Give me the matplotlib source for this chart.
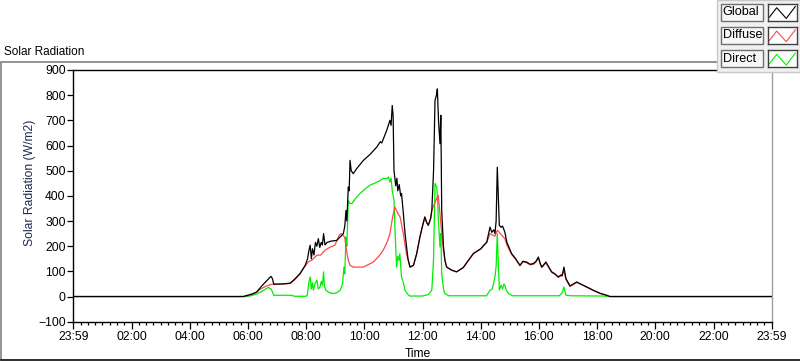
import numpy as np
import matplotlib.pyplot as plt
from matplotlib.patches import Rectangle
from matplotlib.ticker import MultipleLocator

plt.rcParams['font.family'] = ['Liberation Sans', 'DejaVu Sans']

# time in hours after 23:59, values in W/m2
global_t = [0, 5.84, 6.0, 6.15, 6.3, 6.5, 6.79, 6.84, 6.89, 7.2, 7.45, 7.6, 7.79, 7.97, 8.05,
            8.1, 8.14, 8.18, 8.22, 8.27, 8.32, 8.37, 8.42, 8.47, 8.52, 8.56, 8.6, 8.65, 8.72,
            8.85, 9.05, 9.2, 9.28, 9.33, 9.37, 9.4, 9.45, 9.48, 9.51, 9.55, 9.62, 9.75, 9.97,
            10.2, 10.43, 10.55, 10.6, 10.77, 10.85, 10.88, 10.92, 10.96, 10.99, 11.02, 11.08,
            11.12, 11.15, 11.2, 11.25, 11.28, 11.35, 11.4, 11.5, 11.57, 11.69, 11.8, 11.91,
            12.0, 12.08, 12.14, 12.2, 12.28, 12.32, 12.38, 12.43, 12.48, 12.51, 12.55, 12.6,
            12.63, 12.66, 12.72, 12.77, 12.83, 13.0, 13.17, 13.4, 13.75, 14.0, 14.21, 14.32,
            14.38, 14.45, 14.49, 14.53, 14.57, 14.6, 14.64, 14.7, 14.75, 14.83, 14.9, 15.06,
            15.2, 15.35, 15.45, 15.58, 15.7, 15.81, 15.9, 15.98, 16.05, 16.1, 16.24, 16.3,
            16.44, 16.55, 16.67, 16.75, 16.8, 16.86, 16.93, 17.07, 17.3, 17.52, 17.87, 18.1,
            18.33, 18.44, 24]
global_v = [0, 0, 5, 10, 18, 45, 80, 72, 49, 50, 53, 68, 91, 124, 150,
            185, 204, 150, 190, 165, 215, 200, 230, 195, 215, 205, 250, 205, 215,
            220, 223, 240, 250, 280, 342, 300, 435, 420, 541, 500, 488, 510, 541,
            565, 594, 615, 610, 660, 690, 700, 680, 759, 720, 501, 440,
            470, 420, 445, 400, 409, 320, 250, 150, 117, 124, 170, 236,
            280, 316, 295, 283, 310, 342, 500, 779, 800, 825, 700, 607,
            720, 342, 200, 144, 117, 105, 98, 115, 171, 190, 217, 276,
            255, 265, 250, 300, 514, 420, 283, 275, 280, 256, 215, 171,
            150, 124, 140, 137, 128, 131, 140, 157, 130, 117, 137, 125,
            98, 90, 78, 85, 82, 117, 71, 42, 58, 45, 25, 13,
            5, 0, 0]

diffuse_t = [0, 5.84, 6.0, 6.15, 6.3, 6.41, 6.6, 6.79, 6.89, 7.2, 7.45, 7.6, 7.79, 7.97, 8.07,
             8.2, 8.37, 8.5, 8.65, 8.82, 8.99, 9.15, 9.22, 9.33, 9.37, 9.45, 9.51, 9.62, 9.97,
             10.31, 10.5, 10.65, 10.8, 10.88, 10.98, 11.05, 11.15, 11.23, 11.34, 11.45, 11.57,
             11.69, 11.8, 11.91, 12.0, 12.08, 12.14, 12.2, 12.28, 12.32, 12.45, 12.54, 12.6,
             12.66, 12.72, 12.77, 12.83, 13.0, 13.17, 13.4, 13.75, 14.0, 14.21, 14.32, 14.4,
             14.49, 14.57, 14.64, 14.75, 14.83, 14.9, 15.06, 15.2, 15.35, 15.45, 15.58, 15.7,
             15.81, 15.9, 15.98, 16.05, 16.1, 16.24, 16.3, 16.44, 16.55, 16.67, 16.75, 16.86,
             16.93, 17.07, 17.3, 17.52, 17.87, 18.1, 18.33, 18.44, 24]
diffuse_v = [0, 0, 5, 10, 17, 28, 40, 48, 49, 50, 52, 66, 90, 122, 137,
             145, 164, 165, 184, 196, 204, 246, 250, 235, 197, 144, 124, 117, 117,
             137, 160, 184, 220, 250, 320, 356, 330, 316, 250, 170, 117,
             124, 170, 236, 280, 316, 295, 283, 310, 342, 380, 402, 330,
             250, 180, 144, 117, 105, 98, 115, 171, 188, 215, 250, 245,
             240, 263, 255, 240, 230, 205, 168, 148, 122, 138, 134, 126,
             128, 137, 153, 128, 115, 134, 122, 96, 88, 76, 82, 100,
             68, 40, 56, 44, 24, 12, 4, 0, 0]

direct_t = [0, 5.95, 6.1, 6.3, 6.5, 6.7, 6.8, 6.89, 7.5, 7.6, 8.0, 8.04, 8.1, 8.14, 8.18,
            8.22, 8.25, 8.3, 8.37, 8.42, 8.48, 8.52, 8.56, 8.6, 8.63, 8.68, 8.8, 8.94, 9.05,
            9.17, 9.25, 9.3, 9.33, 9.37, 9.4, 9.45, 9.5, 9.57, 9.7, 9.85, 10.0, 10.19, 10.35,
            10.54, 10.65, 10.77, 10.83, 10.88, 10.92, 10.96, 11.02, 11.06, 11.11, 11.15,
            11.19, 11.22, 11.28, 11.33, 11.4, 11.5, 11.57, 12.0, 12.2, 12.32, 12.38, 12.43,
            12.49, 12.52, 12.54, 12.6, 12.63, 12.66, 12.72, 12.77, 12.9, 14.2, 14.32, 14.4,
            14.49, 14.53, 14.57, 14.6, 14.64, 14.7, 14.75, 14.8, 14.83, 14.88, 14.95, 15.1,
            16.7, 16.8, 16.86, 16.93, 17.1, 18.2, 18.44, 24]
direct_v = [0, 0, 3, 10, 22, 36, 30, 5, 5, 1, 1, 5, 60, 78, 30,
            55, 25, 50, 65, 30, 38, 60, 45, 98, 40, 25, 15, 12, 15,
            25, 50, 117, 90, 236, 200, 382, 370, 369, 390, 409, 425, 442, 450,
            461, 470, 468, 475, 455, 470, 422, 382, 250, 117, 160,
            144, 170, 78, 60, 25, 8, 2, 2, 8, 25, 150, 449,
            435, 380, 316, 197, 250, 91, 30, 12, 3, 3, 25, 30,
            78, 120, 250, 150, 25, 45, 30, 50, 45, 25, 12, 3,
            3, 15, 38, 5, 3, 2, 0, 0]

tick_hours = np.arange(0, 25, 2)
tick_labels = ['23:59', '02:00', '04:00', '06:00', '08:00', '10:00', '12:00',
               '14:00', '16:00', '18:00', '20:00', '22:00', '23:59']

series_names = ['Global', 'Diffuse', 'Direct']
series_colors = ['#000000', '#ff4848', '#00ee00']

W, H = 800, 361
fig = plt.figure(figsize=(W / 100, H / 100), dpi=100)

def fx(px):
    return px / W

def fy(py):
    return 1 - py / H

# outer frame of the graph control
fig.add_artist(Rectangle((fx(0.5), fy(360)), fx(810), (360 - 61.7) / H,
                         transform=fig.transFigure, fill=False,
                         edgecolor='#808080', linewidth=1.2, clip_on=False))
fig.add_artist(plt.Line2D([0, 1], [fy(359.8), fy(359.8)], transform=fig.transFigure,
                          color='#202020', linewidth=1.2))
fig.text(fx(4), fy(55), 'Solar Radiation', fontsize=8.5, va='baseline', ha='left')

ax = fig.add_axes([fx(73.3), fy(321.7), fx(771.7 - 73.3), (321.7 - 70) / H])
ax.plot(direct_t, direct_v, color=series_colors[2], lw=0.9)
ax.plot(diffuse_t, diffuse_v, color=series_colors[1], lw=0.9)
ax.plot(global_t, global_v, color=series_colors[0], lw=0.9)

ax.set_xlim(0, 24)
ax.set_ylim(-100, 900)
ax.set_yticks(np.arange(-100, 901, 100))
ax.set_xticks(tick_hours)
ax.set_xticklabels(tick_labels)
ax.xaxis.set_minor_locator(MultipleLocator(0.25))
ax.tick_params(axis='both', which='major', labelsize=8.7, direction='out', width=0.9, color='black')
ax.tick_params(axis='x', which='major', length=5, pad=2)
ax.tick_params(axis='y', which='major', length=4, pad=1.5)
ax.tick_params(axis='x', which='minor', length=2.5, width=0.9)
for s in ['left', 'top', 'bottom']:
    ax.spines[s].set_color('black')
    ax.spines[s].set_linewidth(1.0)
ax.spines['right'].set_color('#a0a0a0')
ax.spines['right'].set_linewidth(1.0)

fig.text(fx(30.5), fy(183), 'Solar Radiation (W/m2)', rotation=90, fontsize=8.7,
         color='#1e2850', ha='center', va='center')
fig.text(fx(417.5), fy(354), 'Time', fontsize=8.7, ha='center', va='center')

# legend panel
fig.add_artist(Rectangle((fx(717), fy(72)), fx(83), 72 / H, transform=fig.transFigure,
                         facecolor='#f0f0f0', edgecolor='#c8c8c8', linewidth=1, zorder=5))
glyph_x = [0.05, 0.3, 0.63, 0.94]
glyph_y = [0.2, 0.75, 0.12, 0.82]
for i, (name, col) in enumerate(zip(series_names, series_colors)):
    top = 3.5 + 23.3 * i
    fig.add_artist(Rectangle((fx(721), fy(top + 17)), fx(42), 17 / H, transform=fig.transFigure,
                             facecolor='#f7f7f7', edgecolor='#707070', linewidth=1, zorder=6))
    fig.text(fx(722.5), fy(top + 8.5), name, fontsize=9.1, ha='left', va='center', zorder=7)
    sax = fig.add_axes([fx(768), fy(top + 17), fx(29), 17 / H], zorder=8)
    sax.plot(glyph_x, glyph_y, color=col, lw=0.8)
    sax.set_xlim(0, 1)
    sax.set_ylim(0, 1)
    sax.set_xticks([])
    sax.set_yticks([])
    for s in sax.spines.values():
        s.set_color('#404040')
        s.set_linewidth(1)

fig.savefig('out.png', dpi=100)
